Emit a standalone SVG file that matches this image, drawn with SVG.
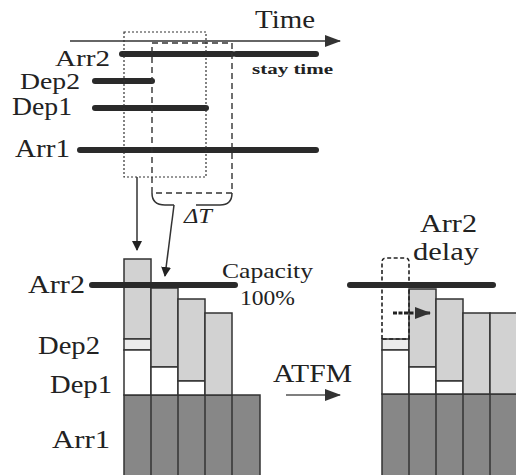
<svg xmlns="http://www.w3.org/2000/svg" width="516" height="475" viewBox="0 0 516 475">
<style>
text{font-family:"Liberation Serif","DejaVu Serif",serif;fill:#222}
.lbl{font-size:25px}
.bar{stroke:#2a2a2a;stroke-width:6;stroke-linecap:round;fill:none}
.col{stroke:#333;stroke-width:1.5}
.lg{fill:#d2d2d2}
.wh{fill:#fff}
.st{fill:#ececec}
.dk{fill:#878787}
.ln{stroke:#333;stroke-width:1.5;fill:none}
</style>
<defs>
<marker id="ah" markerWidth="10" markerHeight="10" refX="9" refY="5" orient="auto" markerUnits="userSpaceOnUse" viewBox="0 0 10 10">
<path d="M0,0 L10,5 L0,10 Z" fill="#222"/>
</marker>
<marker id="ahL" markerWidth="16" markerHeight="12" refX="15" refY="6" orient="auto" markerUnits="userSpaceOnUse" viewBox="0 0 16 12">
<path d="M0,0 L16,6 L0,12 Z" fill="#333"/>
</marker>
</defs>

<g id="timeline">
<text x="255" y="28" class="lbl" textLength="60" lengthAdjust="spacingAndGlyphs">Time</text>
<line x1="70" y1="41" x2="340" y2="41" stroke="#333" stroke-width="1.3" marker-end="url(#ahL)"/>
</g>

<g id="arr2-top">
<text x="55" y="66" font-size="24" textLength="55" lengthAdjust="spacingAndGlyphs">Arr2</text>
<line x1="122" y1="54" x2="232" y2="54" class="bar"/>
<line x1="236" y1="54" x2="316" y2="54" class="bar"/>
<text x="252" y="74" font-size="14" font-weight="bold" textLength="81" lengthAdjust="spacingAndGlyphs">stay time</text>
</g>
<g id="dep2-top">
<text x="20" y="89" font-size="24" textLength="60" lengthAdjust="spacingAndGlyphs">Dep2</text>
<line x1="95" y1="81" x2="152" y2="81" class="bar"/>
</g>
<g id="dep1-top">
<text x="12" y="115" class="lbl" textLength="60" lengthAdjust="spacingAndGlyphs">Dep1</text>
<line x1="95" y1="108" x2="206" y2="108" class="bar"/>
</g>
<g id="arr1-top">
<text x="15" y="157" class="lbl" textLength="55" lengthAdjust="spacingAndGlyphs">Arr1</text>
<line x1="80" y1="150" x2="316" y2="150" class="bar"/>
</g>

<g id="windows">
<rect x="124" y="32" width="82" height="145" fill="none" stroke="#333" stroke-width="1.2" stroke-dasharray="2,2"/>
<path d="M152,193 L152,43 L232,43 L232,193 Z" fill="none" stroke="#333" stroke-width="1.4" stroke-dasharray="6,4"/>
<path d="M152,193 Q152,205 165,205 L174,205 M196,205 L220,205 Q232,205 232,193" class="ln"/>
<text x="184" y="223" font-size="21" font-style="italic" textLength="28" lengthAdjust="spacingAndGlyphs">ΔT</text>
</g>

<g id="connectors">
<line x1="137" y1="177" x2="137" y2="250" class="ln" marker-end="url(#ah)"/>
<line x1="174" y1="205" x2="165" y2="276" class="ln" marker-end="url(#ah)"/>
<line x1="286" y1="395" x2="340" y2="395" stroke="#555" stroke-width="1.3" marker-end="url(#ahL)"/>
</g>

<g id="chart-left">
<rect x="124" y="395" width="136" height="82" class="dk col"/>
<line x1="151" y1="395" x2="151" y2="475" class="col"/>
<line x1="178" y1="395" x2="178" y2="475" class="col"/>
<line x1="205" y1="395" x2="205" y2="475" class="col"/>
<line x1="232" y1="395" x2="232" y2="475" class="col"/>
<rect x="124" y="259" width="27" height="80" class="lg col"/>
<rect x="124" y="339" width="27" height="11" class="st col"/>
<rect x="124" y="350" width="27" height="45" class="wh col"/>
<rect x="151" y="288" width="27" height="79" class="lg col"/>
<rect x="151" y="367" width="27" height="28" class="wh col"/>
<rect x="178" y="299" width="27" height="82" class="lg col"/>
<rect x="178" y="381" width="27" height="14" class="wh col"/>
<rect x="205" y="313" width="27" height="82" class="lg col"/>
<line x1="92" y1="285" x2="235" y2="285" class="bar"/>
<text x="28" y="293" class="lbl" textLength="57" lengthAdjust="spacingAndGlyphs">Arr2</text>
<text x="38" y="354" class="lbl" textLength="62" lengthAdjust="spacingAndGlyphs">Dep2</text>
<text x="50" y="393" class="lbl" textLength="62" lengthAdjust="spacingAndGlyphs">Dep1</text>
<text x="52" y="448" class="lbl" textLength="58" lengthAdjust="spacingAndGlyphs">Arr1</text>
<text x="222" y="278" font-size="22" textLength="91" lengthAdjust="spacingAndGlyphs">Capacity</text>
<text x="240" y="305" font-size="22" textLength="55" lengthAdjust="spacingAndGlyphs">100%</text>
</g>

<g id="atfm">
<text x="273" y="382" class="lbl" textLength="79" lengthAdjust="spacingAndGlyphs">ATFM</text>
</g>

<g id="chart-right">
<rect x="382" y="394" width="136" height="83" class="dk col"/>
<line x1="409" y1="394" x2="409" y2="475" class="col"/>
<line x1="436" y1="394" x2="436" y2="475" class="col"/>
<line x1="463" y1="394" x2="463" y2="475" class="col"/>
<line x1="490" y1="394" x2="490" y2="475" class="col"/>
<rect x="382" y="339" width="27" height="11" class="st col"/>
<rect x="382" y="350" width="27" height="44" class="wh col"/>
<rect x="409" y="289" width="27" height="78" class="lg col"/>
<rect x="409" y="367" width="27" height="27" class="wh col"/>
<rect x="436" y="299" width="27" height="82" class="lg col"/>
<rect x="436" y="381" width="27" height="13" class="wh col"/>
<rect x="463" y="313" width="27" height="81" class="lg col"/>
<rect x="490" y="313" width="28" height="81" class="lg col"/>
<path d="M382,339 L382,262 Q382,258 386,258 L405,258 Q409,258 409,262 L409,339 Z" fill="none" stroke="#222" stroke-width="1.6" stroke-dasharray="4,2.5"/>
<line x1="350" y1="285" x2="493" y2="285" class="bar"/>
<line x1="393" y1="313" x2="430" y2="313" stroke="#222" stroke-width="3" stroke-dasharray="4,1.5" marker-end="url(#ahL)"/>
<text x="420" y="232" class="lbl" textLength="57" lengthAdjust="spacingAndGlyphs">Arr2</text>
<text x="413" y="260" class="lbl" textLength="66" lengthAdjust="spacingAndGlyphs">delay</text>
</g>
</svg>
